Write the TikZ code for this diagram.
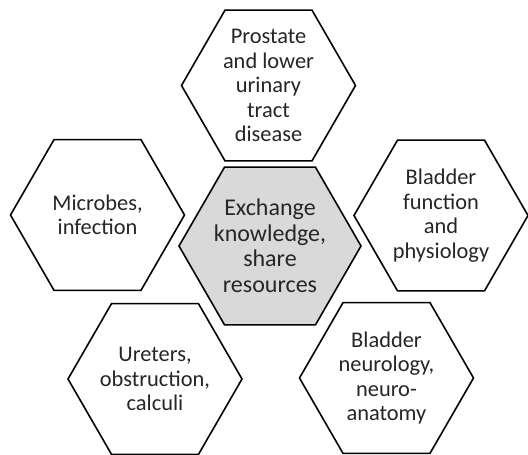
\documentclass[tikz,border=0pt]{standalone}
\usepackage{fontspec}
\setmainfont{Carlito}
\usepackage{tikz}
\usetikzlibrary{shapes.geometric, positioning}
\definecolor{mytext}{RGB}{38,38,38}
\definecolor{myline}{RGB}{0,0,0}
\definecolor{hdrgray}{RGB}{217,217,217}
\tikzset{
  hexbox/.style={regular polygon, regular polygon sides=6, draw=myline,
    fill=white, minimum size=174pt, inner sep=0pt, outer sep=0pt,
    line width=1.6pt},
  hubbox/.style={hexbox, fill=hdrgray, minimum size=182pt},
  hextext/.style={align=center, text=mytext,
    font=\fontsize{22.4pt}{24.5pt}\selectfont},
  hubtext/.style={hextext, font=\fontsize{24pt}{25.5pt}\selectfont}
}

\begin{document}
\begin{tikzpicture}[x=1pt, y=-1pt]
  \useasboundingbox (0,0) rectangle (528,455);

  % Central hub
  \node[hubbox] (hub) at (270,246) {};
  \node[hubtext] (hubtxt) at (hub.center) {Exchange\\knowledge,\\share\\resources};

  % Surrounding topics
  \node[hexbox] (prostate) at (268.5,85.5) {};
  \node[hextext] (prostatetxt) at (prostate.center) {Prostate\\and lower\\urinary\\tract\\disease};

  \node[hexbox] (microbes) at (97.5,215) {};
  \node[hextext] (microbestxt) at (microbes.center) {Microbes,\\infection};

  \node[hexbox] (function) at (441,215.5) {};
  \node[hextext] (functiontxt) at (function.center) {Bladder\\function\\and\\physiology};

  \node[hexbox] (ureters) at (155,379) {};
  \node[hextext] (ureterstxt) at (ureters.center) {Ureters,\\obstruction,\\calculi};

  \node[hexbox] (neuro) at (386.5,378) {};
  \node[hextext] (neurotxt) at (neuro.center) {Bladder\\neurology,\\neuro-\\anatomy};
\end{tikzpicture}
\end{document}
